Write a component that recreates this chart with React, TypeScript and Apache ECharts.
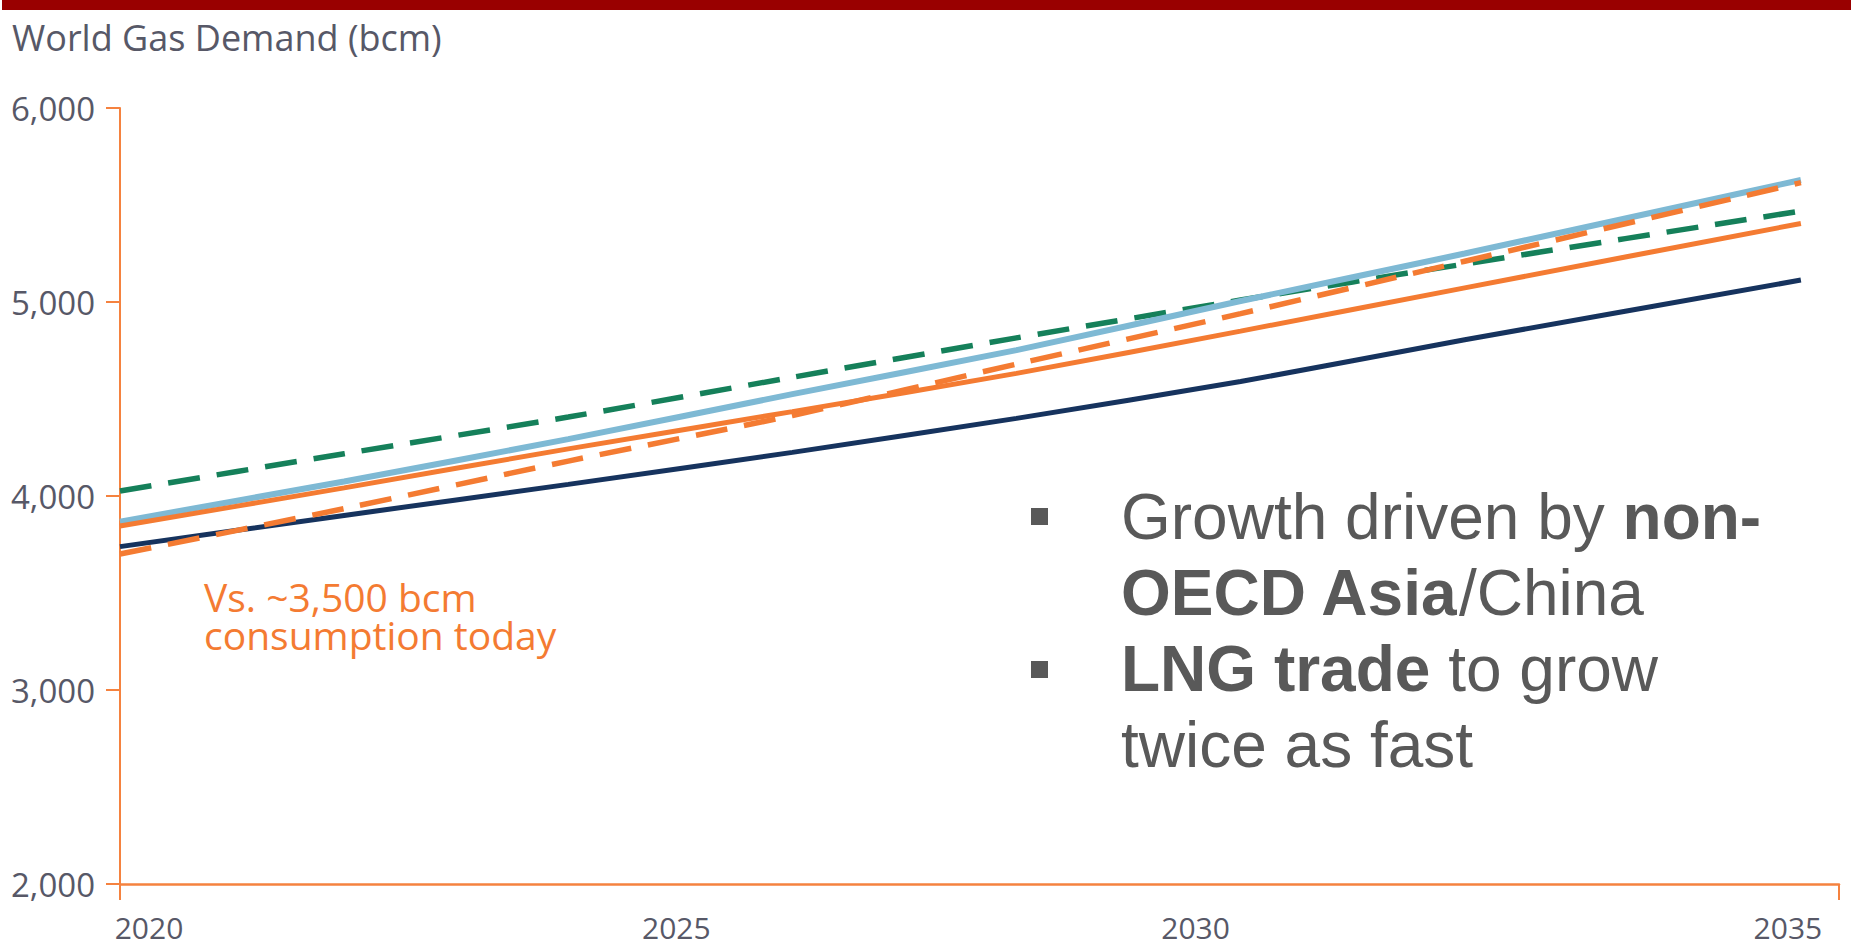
import React, { useEffect, useRef } from 'react';
import * as echarts from 'echarts';

// ---- data ----
const years = [2020, 2022, 2024, 2026, 2028, 2030, 2032, 2035];
const lightBlueLine = [3868, 4075, 4293, 4525, 4752, 5005, 5250, 5629];
const greenDashedLine = [4026, 4218, 4407, 4612, 4815, 5010, 5196, 5469];
const orangeSolidLine = [3845, 4042, 4243, 4435, 4632, 4850, 5073, 5405];
const navyLine = [3739, 3900, 4060, 4225, 4400, 4590, 4805, 5113];
const orangeDashedLine = [3701, 3935, 4180, 4415, 4680, 4940, 5210, 5615];
const xTickYears = [2020, 2025, 2030, 2035];
const yTickValues = [2000, 3000, 4000, 5000, 6000];

const ORANGE = '#F47B32';
const AXIS_ORANGE = '#F5823F';
const LABEL_GRAY = '#575867';
const TEXT_GRAY = '#595959';

const pairs = (ys: number[]) => years.map((y, i) => [y, ys[i]]);

export default function App() {
  const ref = useRef<HTMLDivElement>(null);
  useEffect(() => {
    if (!ref.current) return;
    const chart = echarts.init(ref.current, undefined, { renderer: 'svg' });
    const labelRich: Record<string, any> = {
      y2020: { padding: [0, 0, 0, 58] },
      y2025: { padding: [0, 8, 0, 0] },
      y2030: { padding: [0, 90, 0, 0] },
      y2035: { padding: [0, 26, 0, 0] },
    };
    const option: any = {
      animation: false,
      backgroundColor: '#ffffff',
      grid: {
        left: 120,
        right: 12,
        top: 108,
        bottom: 60,
        containLabel: false,
        outerBoundsMode: 'none',
      },
      xAxis: [
        {
          type: 'value',
          min: 2020,
          max: 2035.34,
          interval: 5,
          axisLine: { show: true, lineStyle: { color: AXIS_ORANGE, width: 2.5 } },
          axisTick: { show: false },
          splitLine: { show: false },
          axisLabel: {
            margin: 28,
            color: LABEL_GRAY,
            fontSize: 30,
            fontFamily: 'Open Sans',
            rich: labelRich,
            formatter: (v: number) =>
              xTickYears.includes(v) ? `{y${v}|${v}}` : '',
          },
        },
        {
          type: 'value',
          position: 'bottom',
          min: 0,
          max: 1,
          interval: 1,
          axisLine: { show: false },
          axisTick: { show: true, length: 16, lineStyle: { color: AXIS_ORANGE, width: 2 } },
          axisLabel: { show: false },
          splitLine: { show: false },
        },
      ],
      yAxis: {
        type: 'value',
        min: yTickValues[0],
        max: yTickValues[yTickValues.length - 1],
        interval: 1000,
        axisLine: { show: true, lineStyle: { color: AXIS_ORANGE, width: 2 } },
        axisTick: { show: true, length: 14, lineStyle: { color: AXIS_ORANGE, width: 2 } },
        splitLine: { show: false },
        axisLabel: {
          margin: 25,
          color: LABEL_GRAY,
          fontSize: 33,
          fontFamily: 'Open Sans',
          formatter: (v: number) => v.toLocaleString('en-US'),
        },
      },
      series: [
        {
          name: 'Scenario (green, dashed)',
          type: 'line',
          data: pairs(greenDashedLine),
          symbol: 'none',
          smooth: 0.2,
          lineStyle: { color: '#15805A', width: 5.5, type: [32, 17], cap: 'butt' },
          z: 2,
        },
        {
          name: 'Scenario (light blue)',
          type: 'line',
          data: pairs(lightBlueLine),
          symbol: 'none',
          smooth: 0.2,
          lineStyle: { color: '#7EB9D4', width: 6 },
          z: 3,
        },
        {
          name: 'Scenario (orange)',
          type: 'line',
          data: pairs(orangeSolidLine),
          symbol: 'none',
          smooth: 0.2,
          lineStyle: { color: ORANGE, width: 5 },
          z: 4,
        },
        {
          name: 'Scenario (navy)',
          type: 'line',
          data: pairs(navyLine),
          symbol: 'none',
          smooth: 0.2,
          lineStyle: { color: '#16335E', width: 5 },
          z: 5,
        },
        {
          name: 'Scenario (orange, dashed)',
          type: 'line',
          data: pairs(orangeDashedLine),
          symbol: 'none',
          smooth: 0.2,
          lineStyle: { color: ORANGE, width: 5.5, type: [32, 17], cap: 'butt' },
          z: 6,
        },
      ],
      graphic: [
        {
          type: 'rect',
          left: 2,
          top: 0,
          shape: { width: 1849, height: 10 },
          style: { fill: '#990000' },
          silent: true,
        },
        {
          type: 'text',
          x: 12,
          y: 37,
          style: {
            text: 'World Gas Demand (bcm)',
            fill: LABEL_GRAY,
            fontSize: 36,
            fontFamily: 'Open Sans',
            verticalAlign: 'middle',
            align: 'left',
          },
        },
        {
          type: 'text',
          x: 204,
          y: 577,
          style: {
            text: 'Vs. ~3,500 bcm\nconsumption today',
            fill: ORANGE,
            fontSize: 39,
            lineHeight: 38,
            fontFamily: 'Open Sans',
            verticalAlign: 'top',
            align: 'left',
          },
        },
        {
          type: 'rect',
          x: 1031,
          y: 508,
          shape: { width: 17, height: 17 },
          style: { fill: TEXT_GRAY },
        },
        {
          type: 'rect',
          x: 1031,
          y: 661,
          shape: { width: 17, height: 17 },
          style: { fill: TEXT_GRAY },
        },
        {
          type: 'text',
          x: 1121,
          y: 479,
          style: {
            text:
              '{n|Growth driven by }{b|non-}\n{b|OECD Asia}{n|/China}\n{b|LNG trade}{n| to grow}\n{n|twice as fast}',
            fill: TEXT_GRAY,
            fontSize: 64,
            lineHeight: 76,
            fontFamily: 'Liberation Sans, Arial, sans-serif',
            verticalAlign: 'top',
            align: 'left',
            rich: {
              n: {
                fontSize: 64,
                lineHeight: 76,
                fontFamily: 'Liberation Sans, Arial, sans-serif',
                fill: TEXT_GRAY,
                color: TEXT_GRAY,
              },
              b: {
                fontSize: 64,
                lineHeight: 76,
                fontWeight: 'bold',
                fontFamily: 'Liberation Sans, Arial, sans-serif',
                fill: TEXT_GRAY,
                color: TEXT_GRAY,
              },
            },
          },
        },
      ],
    };
    chart.setOption(option);
    return () => chart.dispose();
  }, []);
  return (
    <div
      ref={ref}
      style={{
        position: 'fixed',
        left: 0,
        top: 0,
        width: 1851,
        height: 944,
        background: '#ffffff',
      }}
    />
  );
}
